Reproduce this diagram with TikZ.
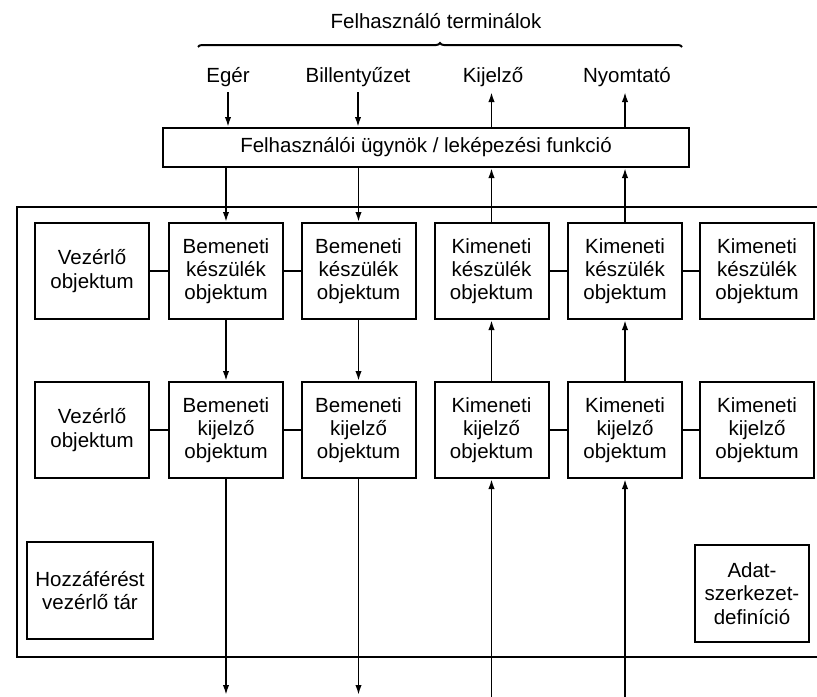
\documentclass[tikz,border=0pt]{standalone}
\usepackage{fontspec}
\setmainfont{Liberation Sans}
\usetikzlibrary{arrows.meta,decorations.pathreplacing}

\begin{document}
\begin{tikzpicture}[x=0.5pt,y=-0.5pt,
  every node/.style={font=\fontsize{10.25}{11.65}\selectfont},
  obj/.style={draw,line width=1pt,align=center,inner sep=0pt,
    minimum width=57pt,minimum height=48pt},
  link/.style={line width=1pt},
  flow/.style={line width=0.9pt,-{Latex[length=5pt,width=3.2pt]}},
  label/.style={inner sep=0pt,anchor=base}]
\useasboundingbox (0,0) rectangle (817,696);

% terminal labels and the brace grouping them
\node[inner sep=0pt] (title) at (436,21) {Felhasználó terminálok};
\draw[line width=1pt,decorate,decoration={brace,amplitude=2pt}]
  (198,47) -- (682,47);
\node[label] (eger) at (228,82) {Egér};
\node[label] (bill) at (358,82) {Billentyűzet};
\node[label] (kij)  at (493,82) {Kijelző};
\node[label] (nyom) at (627,82) {Nyomtató};

% user agent / mapping box
\node[draw,line width=1pt,inner sep=0pt,minimum width=263pt,minimum height=19.5pt]
  (agent) at (426,147.5) {Felhasználói ügynök / leképezési funkció};

% outer frame, open to the right
\draw[line width=1pt] (820,207) -- (17,207) -- (17,657) -- (820,657);

% device objects
\node[obj] (v1) at (92,271)  {Vezérlő\\objektum};
\node[obj] (bk1) at (226,271) {Bemeneti\\készülék\\objektum};
\node[obj] (bk2) at (358.5,271) {Bemeneti\\készülék\\objektum};
\node[obj] (kk1) at (491.5,271) {Kimeneti\\készülék\\objektum};
\node[obj] (kk2) at (625,271) {Kimeneti\\készülék\\objektum};
\node[obj] (kk3) at (757,271) {Kimeneti\\készülék\\objektum};

% display objects
\node[obj] (v2) at (92,430)  {Vezérlő\\objektum};
\node[obj] (bj1) at (226,430) {Bemeneti\\kijelző\\objektum};
\node[obj] (bj2) at (358.5,430) {Bemeneti\\kijelző\\objektum};
\node[obj] (kj1) at (491.5,430) {Kimeneti\\kijelző\\objektum};
\node[obj] (kj2) at (625,430) {Kimeneti\\kijelző\\objektum};
\node[obj] (kj3) at (757,430) {Kimeneti\\kijelző\\objektum};

% stores
\node[obj,minimum width=63pt,minimum height=48.5pt] (tar) at (90,590.5)
  {Hozzáférést\\vezérlő tár};
\node[obj,minimum width=57pt,minimum height=48.5pt] (adat) at (752,593.5)
  {Adat-\\szerkezet-\\definíció};

% horizontal links
\draw[link] (v1) -- (bk1);
\draw[link] (bk1) -- (bk2);
\draw[link] (kk1) -- (kk2);
\draw[link] (kk2) -- (kk3);
\draw[link] (v2) -- (bj1);
\draw[link] (bj1) -- (bj2);
\draw[link] (kj1) -- (kj2);
\draw[link] (kj2) -- (kj3);

% terminals <-> agent
\coordinate (eger-a) at (228,92);
\coordinate (bill-a) at (358,92);
\coordinate (kij-a)  at (491.5,92);
\coordinate (nyom-a) at (625,92);
\draw[flow] (eger-a) -- (eger-a |- agent.north);
\draw[flow] (bill-a) -- (bill-a |- agent.north);
\draw[flow] (kij-a |- agent.north) -- (kij-a);
\draw[flow] (nyom-a |- agent.north) -- (nyom-a);

% agent <-> device objects
\draw[flow] (bk1.north |- agent.south) -- (bk1.north);
\draw[flow] (bk2.north |- agent.south) -- (bk2.north);
\draw[flow] (kk1.north) -- (kk1.north |- agent.south);
\draw[flow] (kk2.north) -- (kk2.north |- agent.south);

% device <-> display objects
\draw[flow] (bk1) -- (bj1);
\draw[flow] (bk2) -- (bj2);
\draw[flow] (kj1) -- (kk1);
\draw[flow] (kj2) -- (kk2);

% display objects <-> application side
\coordinate (out1) at (226,695);
\coordinate (out2) at (358.5,695);
\coordinate (in1)  at (491.5,698);
\coordinate (in2)  at (625,698);
\draw[flow] (bj1) -- (out1);
\draw[flow] (bj2) -- (out2);
\draw[flow] (in1) -- (kj1);
\draw[flow] (in2) -- (kj2);
\end{tikzpicture}
\end{document}
